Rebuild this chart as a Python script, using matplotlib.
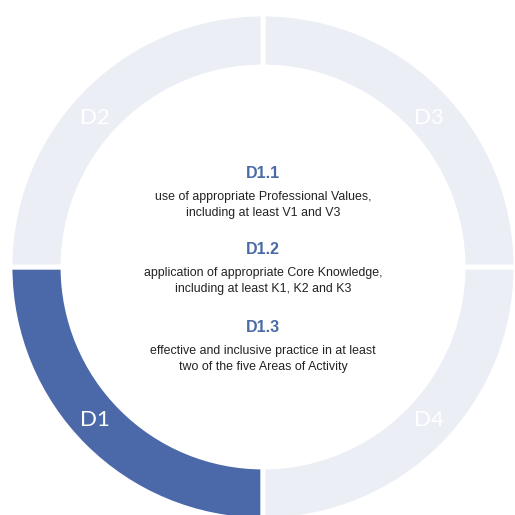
import numpy as np
import matplotlib.pyplot as plt

# segmenti dell'anello (partendo da sinistra, in senso antiorario)
segments = ['D1', 'D4', 'D3', 'D2']
sizes = [1, 1, 1, 1]
seg_colors = ['#4b69a9', '#eceef6', '#eceef6', '#eceef6']

# testi centrali
headings = ['D1.1', 'D1.2', 'D1.3']
descriptions = [
    'use of appropriate Professional Values,\nincluding at least V1 and V3',
    'application of appropriate Core Knowledge,\nincluding at least K1, K2 and K3',
    'effective and inclusive practice in at least\ntwo of the five Areas of Activity',
]

fig = plt.figure(figsize=(5.15, 5.15), dpi=100)
ax = fig.add_axes([0, 0, 1, 1])

R = 253
wedges, _ = ax.pie(sizes, colors=seg_colors, startangle=180, radius=R,
                   counterclock=True,
                   wedgeprops=dict(width=53, edgecolor='white', linewidth=3.5))

# etichette dei segmenti a meta' dell'anello (un po' schiacciate verso l'orizzontale)
for w, lab in zip(wedges, segments):
    mid = np.deg2rad((w.theta1 + w.theta2) / 2)
    sx, sy = np.sign(np.cos(mid)), np.sign(np.sin(mid))
    a = np.deg2rad(42)
    r = 225
    ax.text(sx * r * np.cos(a) - 1, sy * r * np.sin(a), lab, ha='center',
            va='center_baseline', color='white', fontsize=16, family='Lato')

# blocchi di testo al centro
y_head = [94, 18, -60]
for h, d, y in zip(headings, descriptions, y_head):
    ax.text(0, y, h, ha='center', va='center', fontsize=11.5, fontweight='bold',
            color='#4a6aa5', family='Liberation Sans')
    ax.text(0, y - 32, d, ha='center', va='center', fontsize=8.9,
            color='#222222', family='Liberation Sans', linespacing=1.55)

# limiti impostati dopo pie(), che li sovrascrive
ax.set_xlim(-263, 252)
ax.set_ylim(-248, 267)
ax.set_aspect('equal')
ax.axis('off')

plt.savefig('out.png', dpi=100)
